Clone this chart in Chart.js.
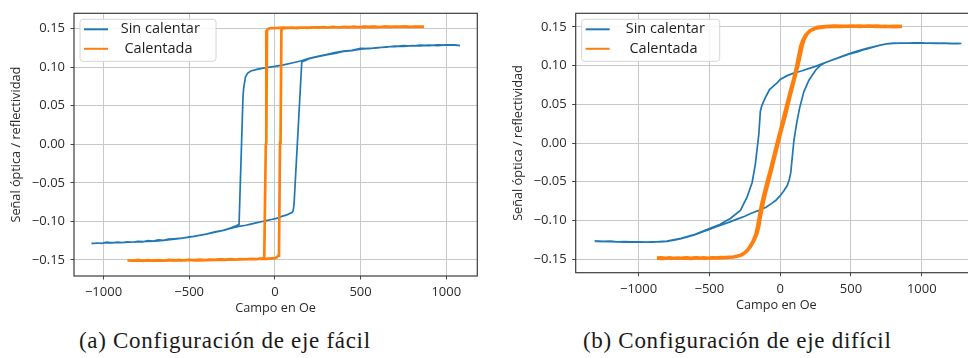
<!DOCTYPE html>
<html>
<head>
<meta charset="utf-8">
<script src="https://cdn.jsdelivr.net/npm/chart.js@4/dist/chart.umd.min.js"></script>
<style>
  html, body { margin:0; padding:0; background:#fff; overflow:hidden; }
  body { width:968px; height:358px; position:relative; }
  .wrap { position:absolute; top:0; }
  .cap { position:absolute; top:330px; font-family:"Liberation Serif", serif; font-size:23px; line-height:22px; letter-spacing:0.7px; color:#1a1a1a; white-space:nowrap; }
</style>
</head>
<body>
<div class="wrap" style="left:0;width:484px;height:318px"><canvas id="ca" width="484" height="318"></canvas></div>
<div class="wrap" style="left:484px;width:500px;height:318px"><canvas id="cb" width="500" height="318"></canvas></div>
<div class="cap" style="left:79px">(a) Configuración de eje fácil</div>
<div class="cap" style="left:583px">(b) Configuración de eje difícil</div>
<script>
// ---------- DATA ----------
const seriesNames = ['Sin calentar', ' Calentada'];
const xTicks = [-1000, -500, 0, 500, 1000];
const yTicks = [-0.15, -0.10, -0.05, 0.00, 0.05, 0.10, 0.15];
const xAxisTitle = 'Campo en Oe';
const yAxisTitle = 'Señal óptica / reflectividad';

// (a) eje fácil — Sin calentar  [campo, señal]
const easyBlue = [
 [-1070,-0.129],[-1040,-0.128],[-1010,-0.1285],[-980,-0.127],[-950,-0.128],[-920,-0.127],[-890,-0.1275],[-860,-0.1265],
 [-830,-0.127],[-800,-0.126],[-770,-0.1265],[-740,-0.125],[-710,-0.1255],[-680,-0.124],[-650,-0.1245],[-620,-0.123],
 [-590,-0.1225],[-560,-0.122],[-530,-0.1215],[-500,-0.120],[-470,-0.1195],[-440,-0.118],[-410,-0.117],[-380,-0.1155],
 [-350,-0.114],[-320,-0.1125],[-290,-0.111],[-260,-0.109],[-230,-0.1075],[-200,-0.106],[-170,-0.105],[-140,-0.1035],
 [-110,-0.102],[-80,-0.1005],[-50,-0.099],[-20,-0.0975],[10,-0.096],[40,-0.0935],[70,-0.0915],[90,-0.0895],
 [100,-0.0885],[107,-0.086],[112,-0.077],[157,0.107],[175,0.1085],[200,0.111],[250,0.1135],[300,0.116],
 [350,0.118],[400,0.1205],[450,0.1215],[500,0.1235],[550,0.1245],[600,0.125],[650,0.1265],[700,0.1265],
 [750,0.128],[800,0.1275],[850,0.1285],[900,0.128],[950,0.129],[1000,0.1285],[1050,0.129],[1080,0.128],
 [1050,0.1285],[1000,0.129],[950,0.128],[900,0.1285],[850,0.1275],[800,0.128],[750,0.127],[700,0.1275],
 [650,0.126],[600,0.1255],[550,0.124],[500,0.1245],[450,0.122],[400,0.121],[350,0.119],[300,0.1165],
 [250,0.114],[200,0.1115],[150,0.108],[100,0.1055],[50,0.103],[0,0.101],[-50,0.0995],[-100,0.0975],
 [-140,0.095],[-160,0.092],[-172,0.087],[-182,0.073],[-186,0.062],[-209,-0.104],[-230,-0.106],[-260,-0.1085],
 [-300,-0.1115],[-350,-0.1135],[-400,-0.1165],[-450,-0.1185],[-500,-0.1205],[-550,-0.122],[-600,-0.1235],[-650,-0.1245],
 [-700,-0.1255],[-750,-0.126],[-800,-0.1265],[-850,-0.127],[-900,-0.1275],[-950,-0.1275],[-1000,-0.128],[-1070,-0.1285]
];
// (a) eje fácil — Calentada
const easyOrange = [
 [-860,-0.1505],[-830,-0.151],[-800,-0.150],[-770,-0.1512],[-740,-0.1503],[-710,-0.151],[-680,-0.1502],[-650,-0.151],
 [-620,-0.150],[-590,-0.1508],[-560,-0.150],[-530,-0.1507],[-500,-0.1498],[-470,-0.1505],[-440,-0.1497],[-410,-0.1503],
 [-380,-0.1495],[-350,-0.150],[-320,-0.1493],[-290,-0.1498],[-260,-0.149],[-230,-0.1495],[-200,-0.1488],[-170,-0.1492],
 [-140,-0.1485],[-110,-0.149],[-80,-0.1483],[-50,-0.1485],[-20,-0.148],[0,-0.1478],[12,-0.1465],[20,-0.1445],
 [24,-0.1425],[30,0.002],[33,0.003],[38,0.148],[45,0.1505],[70,0.151],[100,0.1512],[130,0.1508],
 [160,0.1515],[190,0.151],[220,0.1518],[250,0.1512],[280,0.152],[310,0.1514],[340,0.1522],[370,0.1515],
 [400,0.1523],[430,0.1517],[460,0.1525],[490,0.1518],[520,0.1525],[550,0.152],[580,0.1527],[610,0.152],
 [640,0.1526],[670,0.1521],[700,0.1527],[730,0.1522],[760,0.1528],[790,0.1522],[820,0.1527],[850,0.1523],[870,0.1525],
 [850,0.1527],[800,0.1524],[750,0.1526],[700,0.1522],[650,0.1525],[600,0.1521],[550,0.1524],[500,0.152],
 [450,0.1522],[400,0.1518],[350,0.152],[300,0.1515],[250,0.1518],[200,0.1512],[150,0.1515],[100,0.151],
 [50,0.1512],[0,0.1508],[-27,0.1505],[-40,0.1495],[-46,0.148],[-50,0.002],[-53,-0.001],[-62,-0.147],
 [-70,-0.148],[-100,-0.1487],[-150,-0.149],[-200,-0.1492],[-250,-0.1497],[-300,-0.1495],[-350,-0.150],[-400,-0.1502],
 [-450,-0.1505],[-500,-0.150],[-550,-0.1507],[-600,-0.1503],[-650,-0.1508],[-700,-0.1505],[-750,-0.151],[-800,-0.1506],[-860,-0.151]
];
// (b) eje difícil — Sin calentar
const hardBlue = [
 [-1310,-0.1265],[-1250,-0.127],[-1200,-0.1268],[-1150,-0.1275],[-1100,-0.1272],[-1050,-0.1278],[-1000,-0.1275],[-950,-0.128],
 [-900,-0.1276],[-850,-0.1278],[-800,-0.127],[-750,-0.1255],[-700,-0.1235],[-650,-0.121],[-600,-0.1185],[-550,-0.115],
 [-500,-0.1115],[-450,-0.108],[-400,-0.105],[-350,-0.1015],[-300,-0.098],[-250,-0.0945],[-200,-0.0905],[-150,-0.087],
 [-100,-0.083],[-60,-0.078],[-30,-0.074],[0,-0.068],[25,-0.062],[50,-0.055],[65,-0.047],[75,-0.038],
 [85,-0.019],[97,0.003],[115,0.024],[137,0.045],[167,0.066],[203,0.081],[250,0.094],[285,0.1005],
 [320,0.104],[380,0.108],[450,0.1125],[500,0.1155],[550,0.118],[600,0.121],[650,0.1235],[700,0.126],
 [750,0.128],[800,0.1285],[850,0.129],[900,0.1288],[950,0.129],[1000,0.1292],[1050,0.1288],[1100,0.129],
 [1150,0.1285],[1200,0.1288],[1250,0.1282],[1280,0.1285],
 [1250,0.1288],[1200,0.1284],[1150,0.1289],[1100,0.1286],[1050,0.1291],[1000,0.1289],[950,0.1292],[900,0.129],
 [850,0.1288],[800,0.129],[750,0.1282],[700,0.1262],[650,0.124],[600,0.1215],[550,0.119],[500,0.116],
 [450,0.113],[400,0.1095],[350,0.106],[300,0.1025],[250,0.099],[200,0.096],[150,0.093],[100,0.0905],
 [50,0.087],[0,0.082],[-20,0.078],[-50,0.073],[-75,0.069],[-95,0.062],[-116,0.054],[-130,0.048],
 [-140,0.041],[-151,0.011],[-163,-0.008],[-175,-0.027],[-198,-0.051],[-234,-0.070],[-281,-0.087],[-352,-0.0975],
 [-423,-0.105],[-500,-0.1105],[-600,-0.118],[-700,-0.1232],[-800,-0.1268],[-900,-0.128],[-1000,-0.1277],[-1100,-0.128],
 [-1200,-0.1274],[-1310,-0.127]
];
// (b) eje difícil — Calentada
const hardOrange = [
 [-870,-0.1485],[-840,-0.148],[-810,-0.1488],[-780,-0.1482],[-750,-0.149],[-720,-0.1484],[-690,-0.149],[-660,-0.1483],
 [-630,-0.1489],[-600,-0.1482],[-570,-0.1488],[-540,-0.148],[-510,-0.1487],[-480,-0.148],[-450,-0.1485],[-420,-0.1478],
 [-390,-0.1482],[-360,-0.1475],[-330,-0.1472],[-300,-0.1462],[-270,-0.1445],[-240,-0.1405],[-210,-0.134],[-185,-0.126],
 [-163,-0.1168],[-150,-0.107],[-140,-0.0955],[-127,-0.084],[-116,-0.0742],[-100,-0.062],[-81,-0.0486],[-63,-0.036],
 [-45,-0.023],[-28,-0.010],[-10,0.003],[8,0.016],[26,0.028],[44,0.041],[61,0.0537],[78,0.066],
 [96,0.079],[114,0.092],[132,0.105],[145,0.116],[156,0.126],[172,0.135],[191,0.141],[220,0.146],
 [262,0.1495],[320,0.1505],[380,0.151],[440,0.1505],[500,0.1512],[560,0.1505],[620,0.151],[680,0.1503],
 [740,0.1508],[800,0.1502],[860,0.1505],
 [800,0.1508],[740,0.1503],[680,0.151],[620,0.1506],[560,0.1512],[500,0.1507],[440,0.151],[380,0.1505],
 [320,0.150],[260,0.1485],[210,0.145],[180,0.1395],[160,0.133],[143,0.124],[132,0.114],[120,0.103],
 [105,0.090],[88,0.078],[70,0.066],[52,0.053],[34,0.040],[16,0.027],[-2,0.014],[-20,0.001],
 [-38,-0.012],[-56,-0.025],[-74,-0.038],[-92,-0.050],[-110,-0.063],[-126,-0.075],[-140,-0.087],[-150,-0.098],
 [-160,-0.108],[-172,-0.118],[-195,-0.128],[-225,-0.137],[-255,-0.1425],[-290,-0.1455],[-330,-0.147],[-380,-0.1478],
 [-430,-0.1485],[-480,-0.1482],[-530,-0.149],[-580,-0.1484],[-630,-0.1491],[-680,-0.1485],[-730,-0.149],[-780,-0.1486],
 [-830,-0.1492],[-870,-0.1488]
];

// ---------- STYLE / PLUGINS ----------
const BLUE = '#1f77b4', ORANGE = '#ff7f0e';
const TXT = '#2b2b2b';
const FONT = '"Open Sans", "DejaVu Sans", sans-serif';

const framePlugin = {
  id: 'frame',
  afterDatasetsDraw(chart) {
    const {ctx, chartArea: a} = chart;
    ctx.save();
    ctx.strokeStyle = '#3d3d3d';
    ctx.lineWidth = 1.2;
    ctx.strokeRect(a.left, a.top, a.right - a.left, a.bottom - a.top);
    ctx.restore();
  }
};

const legendPlugin = {
  id: 'boxLegend',
  afterDraw(chart, args, opts) {
    const {ctx, chartArea: a} = chart;
    const x0 = a.left + 6, y0 = a.top + 6, w = opts.width, h = 42, r = 3;
    ctx.save();
    ctx.beginPath();
    ctx.moveTo(x0 + r, y0);
    ctx.arcTo(x0 + w, y0, x0 + w, y0 + h, r);
    ctx.arcTo(x0 + w, y0 + h, x0, y0 + h, r);
    ctx.arcTo(x0, y0 + h, x0, y0, r);
    ctx.arcTo(x0, y0, x0 + w, y0, r);
    ctx.closePath();
    ctx.fillStyle = 'rgba(255,255,255,0.85)';
    ctx.fill();
    ctx.strokeStyle = '#d6d6d6';
    ctx.lineWidth = 1;
    ctx.stroke();
    chart.data.datasets.forEach((ds, i) => {
      const y = y0 + 10 + i * 19.5;
      ctx.strokeStyle = ds.borderColor;
      ctx.lineWidth = 2;
      ctx.beginPath();
      ctx.moveTo(x0 + 4, y);
      ctx.lineTo(x0 + 28, y);
      ctx.stroke();
      ctx.fillStyle = '#1e1e1e';
      ctx.font = '14.5px ' + FONT;
      ctx.textBaseline = 'middle';
      ctx.textAlign = 'left';
      ctx.fillText(ds.label, x0 + opts.textX, y);
    });
    ctx.restore();
  }
};

function fmtNum(v, d) {
  const s = Math.abs(v).toFixed(d);
  return (v < 0 && Math.abs(v) > 1e-9 ? '\u2212' : '') + s;
}

function toPts(arr) { return arr.map(p => ({x: p[0], y: p[1]})); }

function makeChart(id, blue, orange, cfg) {
  return new Chart(document.getElementById(id), {
    type: 'scatter',
    data: {
      datasets: [
        { label: seriesNames[0], data: toPts(blue), showLine: true, borderColor: BLUE, backgroundColor: BLUE,
          borderWidth: 1.7, pointRadius: 0, tension: 0, order: 2 },
        { label: seriesNames[1], data: toPts(orange), showLine: true, borderColor: ORANGE, backgroundColor: ORANGE,
          borderWidth: cfg.orangeWidth, pointRadius: 0, tension: 0, order: 1 }
      ]
    },
    options: {
      responsive: false,
      animation: false,
      layout: { padding: { top: cfg.padTop, right: cfg.padRight, left: 0, bottom: 0 } },
      plugins: {
        legend: { display: false },
        tooltip: { enabled: false },
        boxLegend: { width: cfg.legendW, textX: cfg.legendTextX }
      },
      scales: {
        x: {
          type: 'linear', min: cfg.xMin, max: cfg.xMax,
          afterBuildTicks: s => { s.ticks = xTicks.map(v => ({value: v})); },
          afterFit: s => { s.height = cfg.xH; },
          grid: { color: '#c8c8c8', lineWidth: 1, drawTicks: true, tickLength: 3.5, tickColor: '#444', tickWidth: 1 },
          border: { display: false },
          ticks: { padding: cfg.xTickPad, color: TXT, font: { family: FONT, size: 13 }, maxRotation: 0,
                   callback: v => fmtNum(v, 0) },
          title: { display: true, text: xAxisTitle, color: TXT, font: { family: FONT, size: 12.7 },
                   padding: { top: 0, bottom: cfg.xTitlePad } }
        },
        y: {
          type: 'linear', min: cfg.yMin, max: cfg.yMax,
          afterBuildTicks: s => { s.ticks = yTicks.map(v => ({value: v})); },
          afterFit: s => { s.width = cfg.yW; },
          grid: { color: '#c8c8c8', lineWidth: 1, drawTicks: true, tickLength: 3.5, tickColor: '#444', tickWidth: 1 },
          border: { display: false },
          ticks: { padding: 5.5, color: TXT, font: { family: FONT, size: 13 }, callback: v => fmtNum(v, 2) },
          title: { display: true, text: yAxisTitle, color: TXT, font: { family: FONT, size: 12.7 },
                   padding: { top: cfg.yTitlePad, bottom: 0 } }
        }
      }
    },
    plugins: [framePlugin, legendPlugin]
  });
}

makeChart('ca', easyBlue, easyOrange, {
  xMin: -1172, xMax: 1181, yMin: -0.1708, yMax: 0.1699,
  padTop: 13.3, padRight: 6.7, yW: 74, xH: 42, xTickPad: 5, xTitlePad: 2.4, yTitlePad: 8.4,
  legendW: 136, legendTextX: 40.7, orangeWidth: 2.7
});
makeChart('cb', hardBlue, hardOrange, {
  xMin: -1444, xMax: 1390, yMin: -0.1675, yMax: 0.1675,
  padTop: 10.7, padRight: 7, yW: 91.7, xH: 45.3, xTickPad: 5, xTitlePad: 5.4, yTitlePad: 26.6,
  legendW: 138, legendTextX: 44, orangeWidth: 3.4
});
</script>
</body>
</html>
